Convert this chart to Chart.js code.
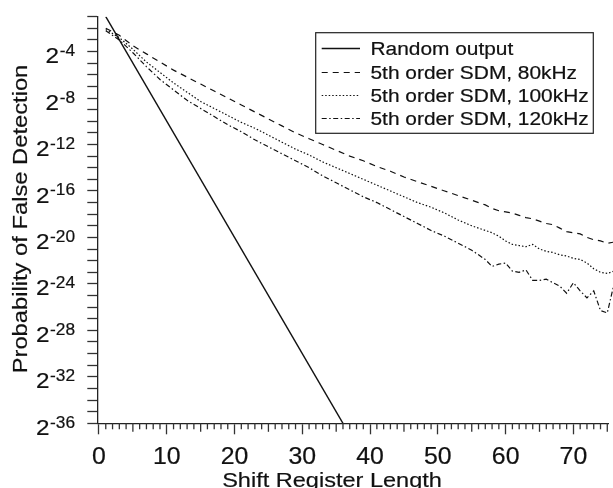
<!DOCTYPE html>
<html>
<head>
<meta charset="utf-8">
<script src="https://cdn.jsdelivr.net/npm/chart.js@4.4.0/dist/chart.umd.min.js"></script>
<style>
  html, body { margin: 0; padding: 0; background: #fff; }
</style>
</head>
<body>
<canvas id="chart" width="613" height="488"></canvas>
<script>
// x values (shift register length) and y values as exponents of 2
const randomLengths = [1, 36];
const randomExp = [-1, -36];

const sdmLengths = [1, 3, 5, 7, 9, 11, 13, 15, 17, 19, 21, 23, 25, 27, 29, 31, 33, 35, 37, 39,
    41, 43, 45, 47, 49, 51, 53, 55, 56, 57, 58, 59, 60, 61, 62, 63, 64, 65, 66, 67, 68, 69, 70,
    71, 72, 73, 74, 75, 76];

const sdm80Exp = [-2.0, -2.6, -3.5, -4.2, -4.9, -5.6, -6.2, -6.8, -7.4, -8.0, -8.6, -9.2, -9.8,
    -10.4, -11.0, -11.5, -12.0, -12.5, -13.0, -13.4, -13.9, -14.3, -14.8, -15.2, -15.6, -16.0,
    -16.4, -16.8, -17.0, -17.2, -17.5, -17.7, -17.8, -17.9, -18.1, -18.3, -18.4, -18.6, -18.8,
    -18.9, -19.2, -19.5, -19.6, -19.7, -20.0, -20.2, -20.3, -20.5, -20.4];

const sdm100Exp = [-2.1, -2.8, -3.8, -4.9, -5.8, -6.7, -7.5, -8.3, -8.9, -9.5, -10.1, -10.6,
    -11.2, -11.8, -12.4, -12.9, -13.5, -14.0, -14.5, -15.0, -15.5, -16.0, -16.5, -17.0, -17.4,
    -17.9, -18.5, -19.0, -19.2, -19.4, -19.6, -19.9, -20.3, -20.6, -20.7, -20.8, -20.6, -21.0,
    -21.2, -21.3, -21.5, -21.6, -21.8, -21.9, -22.2, -22.7, -23.0, -23.1, -22.9];

const sdm120Exp = [-2.2, -3.0, -4.1, -5.3, -6.4, -7.3, -8.2, -8.9, -9.6, -10.3, -10.9, -11.6,
    -12.2, -12.8, -13.4, -14.0, -14.7, -15.3, -15.9, -16.5, -17.0, -17.6, -18.2, -18.8, -19.4,
    -19.9, -20.5, -21.1, -21.5, -21.9, -22.5, -22.3, -22.2, -22.9, -23.0, -22.8, -23.7, -23.7,
    -23.6, -23.9, -24.2, -24.8, -23.9, -24.6, -25.2, -24.6, -26.3, -26.5, -24.0];

const seriesLabels = ['Random output', '5th order SDM, 80kHz', '5th order SDM, 100kHz', '5th order SDM, 120kHz'];
const yTickExps = [-4, -8, -12, -16, -20, -24, -28, -32, -36];
const xTickLabels = [0, 10, 20, 30, 40, 50, 60, 70];

const FONT = '"Liberation Sans", Arial, sans-serif';
const INK = '#111';

function pts(xs, ys) {
    return xs.map((x, i) => ({ x: x, y: ys[i] }));
}

// text slightly stretched sideways, like the original figure
function txt(ctx, s, x, y, size, align, sx) {
    ctx.save();
    ctx.font = size + 'px ' + FONT;
    ctx.fillStyle = INK;
    ctx.strokeStyle = INK;
    ctx.lineWidth = 0.2;
    ctx.textAlign = align;
    ctx.textBaseline = 'alphabetic';
    ctx.translate(x, y);
    ctx.scale(sx, 1);
    ctx.fillText(s, 0, 0);
    ctx.strokeText(s, 0, 0);
    ctx.restore();
}

function textW(ctx, s, size, sx) {
    ctx.save();
    ctx.font = size + 'px ' + FONT;
    const w = ctx.measureText(s).width * sx;
    ctx.restore();
    return w;
}

const figText = {
    id: 'figText',
    afterDraw(chart) {
        const ctx = chart.ctx;
        const xs = chart.scales.x, ys = chart.scales.y;

        // minor ticks on x
        ctx.save();
        ctx.strokeStyle = '#333';
        ctx.lineWidth = 1.3;
        for (let v = 1; v <= 75; v++) {
            if (v % 10 === 0) continue;
            const len = v % 5 === 0 ? 8.5 : 6;
            const px = xs.getPixelForValue(v);
            ctx.beginPath();
            ctx.moveTo(px, xs.top);
            ctx.lineTo(px, xs.top + len);
            ctx.stroke();
        }
        ctx.restore();

        // x tick labels
        xTickLabels.forEach(v => {
            txt(ctx, String(v), xs.getPixelForValue(v), 463.5, 23, 'center', 1.08);
        });

        // y tick labels 2^n
        yTickExps.forEach(e => {
            const py = ys.getPixelForValue(e);
            const sup = String(e);
            const supW = textW(ctx, sup, 16, 1.08);
            txt(ctx, sup, 75, py + 4.5, 16, 'right', 1.08);
            txt(ctx, '2', 75 - supW - 0.5, py + 11.6, 22.5, 'right', 1.08);
        });

        // axis titles
        txt(ctx, 'Shift Register Length', 332, 487, 21, 'center', 1.12);
        ctx.save();
        ctx.translate(26.5, 219);
        ctx.rotate(-Math.PI / 2);
        txt(ctx, 'Probability of False Detection', 0, 0, 21, 'center', 1.13);
        ctx.restore();

        // legend box
        const bx = 315.7, by = 32.7, bw = 277.6, bh = 100.6;
        ctx.save();
        ctx.fillStyle = '#fff';
        ctx.fillRect(bx, by, bw, bh);
        ctx.strokeStyle = '#222';
        ctx.lineWidth = 1.2;
        ctx.strokeRect(bx, by, bw, bh);
        const rows = [48.5, 72.5, 95.5, 118.5];
        chart.data.datasets.forEach((ds, i) => {
            ctx.save();
            ctx.strokeStyle = ds.borderColor;
            ctx.lineWidth = ds.borderWidth;
            ctx.setLineDash(ds.borderDash || []);
            ctx.beginPath();
            ctx.moveTo(321.7, rows[i]);
            ctx.lineTo(360, rows[i]);
            ctx.stroke();
            ctx.restore();
            txt(ctx, ds.label, 370.5, rows[i] + 6.5, 18, 'left', 1.16);
        });
        ctx.restore();
    }
};

const edge = { left: 0, top: 0, right: 5, bottom: 0 };

const ctx = document.getElementById('chart').getContext('2d');
const chart = new Chart(ctx, {
    type: 'line',
    data: {
        datasets: [{
            label: seriesLabels[0],
            data: pts(randomLengths, randomExp),
            borderColor: INK,
            borderWidth: 1.4,
            pointRadius: 0,
        }, {
            label: seriesLabels[1],
            data: pts(sdmLengths, sdm80Exp),
            borderColor: INK,
            borderWidth: 1.2,
            borderDash: [6, 5],
            pointRadius: 0,
            clip: edge,
        }, {
            label: seriesLabels[2],
            data: pts(sdmLengths, sdm100Exp),
            borderColor: INK,
            borderWidth: 1.2,
            borderDash: [1.5, 2],
            pointRadius: 0,
            clip: edge,
        }, {
            label: seriesLabels[3],
            data: pts(sdmLengths, sdm120Exp),
            borderColor: INK,
            borderWidth: 1.2,
            borderDash: [5, 2.5, 1.5, 2.5],
            pointRadius: 0,
            clip: edge,
        }]
    },
    options: {
        responsive: false,
        animation: false,
        devicePixelRatio: 1,
        layout: { padding: { left: 0, top: 16.7, right: 4.7, bottom: 0 } },
        plugins: {
            legend: { display: false },
            tooltip: { enabled: false }
        },
        scales: {
            x: {
                type: 'linear',
                min: -0.25,
                max: 75.15,
                afterFit(s) { s.height = 64.7; },
                border: { display: true, color: '#222', width: 1.3 },
                grid: { drawOnChartArea: false, tickLength: 11, tickWidth: 1.3, tickColor: '#333' },
                ticks: { display: false, stepSize: 10, includeBounds: false }
            },
            y: {
                type: 'linear',
                min: -36,
                max: -1,
                afterFit(s) { s.width = 97.3; },
                border: { display: true, color: '#222', width: 1.3 },
                grid: { drawOnChartArea: false, tickLength: 10, tickWidth: 1.3, tickColor: '#333' },
                ticks: { display: false, stepSize: 1 }
            }
        }
    },
    plugins: [figText]
});
</script>
</body>
</html>
